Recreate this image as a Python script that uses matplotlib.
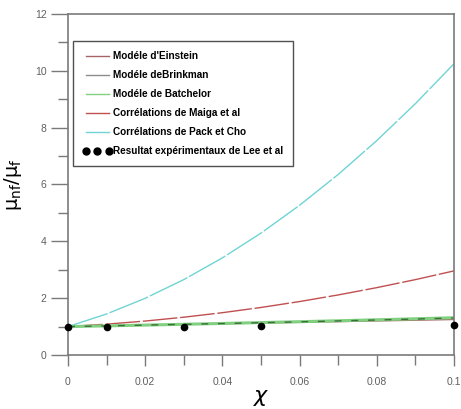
import matplotlib
matplotlib.use("Agg")
import matplotlib.pyplot as plt
from matplotlib.lines import Line2D
from matplotlib.ticker import MultipleLocator

phi = [0.0, 0.01, 0.02, 0.03, 0.04, 0.05, 0.06, 0.07, 0.08, 0.09, 0.10]
einstein = [1.0, 1.025, 1.05, 1.075, 1.10, 1.125, 1.15, 1.175, 1.20, 1.225, 1.25]
brinkman = [1.0, 1.025, 1.052, 1.079, 1.107, 1.137, 1.167, 1.199, 1.232, 1.266, 1.301]
batchelor = [1.0, 1.026, 1.053, 1.081, 1.110, 1.141, 1.172, 1.205, 1.240, 1.275, 1.312]
maiga = [1.0, 1.086, 1.195, 1.330, 1.489, 1.673, 1.881, 2.114, 2.371, 2.653, 2.96]
pakcho = [1.0, 1.444, 1.996, 2.654, 3.418, 4.290, 5.269, 6.354, 7.546, 8.845, 10.25]
lee_x = [0.0, 0.01, 0.03, 0.05, 0.10]
lee_y = [1.0, 0.98, 0.99, 1.02, 1.06]

labels = ["Modéle d'Einstein", "Modéle deBrinkman", "Modéle de Batchelor",
          "Corrélations de Maiga et al", "Corrélations de Pack et Cho",
          "Resultat expérimentaux de Lee et al"]

c_ein = "#a86464"
c_bri = "#8c8c8c"
c_bat = "#80d080"
c_mai = "#c05050"
c_pak = "#70d4d4"

plt.rcParams['font.family'] = ['Liberation Sans', 'DejaVu Sans']
fig = plt.figure(figsize=(4.61, 4.09), dpi=100)
ax = fig.add_axes([0.1475, 0.132, 0.8375, 0.834])

ax.plot(phi, pakcho, color=c_pak, lw=1.0, dashes=(30, 1.5))
ax.plot(phi, maiga, color=c_mai, lw=1.0, dashes=(25, 2))
ax.plot(phi, einstein, color=c_ein, lw=1.0)
ax.plot(phi, batchelor, color=c_bat, lw=2.2)
ax.plot(phi, brinkman, color="#3c6e3c", lw=1.0, dashes=(5, 7))
ax.plot(lee_x, lee_y, 'o', color='black', ms=4.5, clip_on=False, zorder=5)

ax.set_xlim(0, 0.1)
ax.set_ylim(0, 12)
ax.xaxis.set_major_locator(MultipleLocator(0.02))
ax.xaxis.set_minor_locator(MultipleLocator(0.01))
ax.yaxis.set_major_locator(MultipleLocator(2))
ax.yaxis.set_minor_locator(MultipleLocator(1))
ax.set_xticks([0, 0.02, 0.04, 0.06, 0.08, 0.1])
ax.set_xticklabels(["0", "0.02", "0.04", "0.06", "0.08", "0.1"])
ax.tick_params(which='both', direction='out', colors='#7a7a7a', labelcolor='#606060',
               labelsize=7.5, width=1.0)
ax.tick_params(which='major', length=12)
ax.tick_params(which='minor', length=7)
ax.tick_params(axis='x', which='both', length=7)
ax.tick_params(axis='x', which='major', length=8, pad=8)
for s in ax.spines.values():
    s.set_color('#7a7a7a')
    s.set_linewidth(1.2)

ax.set_xlabel(r"$\chi$", fontsize=16, labelpad=0)
ax.set_ylabel(r"$\mathrm{\mu_{nf}/\mu_{f}}$", fontsize=14, labelpad=8)

handles = [Line2D([], [], color=c_ein, lw=1.0),
           Line2D([], [], color=c_bri, lw=1.0),
           Line2D([], [], color=c_bat, lw=1.0),
           Line2D([], [], color=c_mai, lw=1.0),
           Line2D([], [], color=c_pak, lw=1.0),
           Line2D([], [], color='black', marker='o', ls='none', ms=5)]
leg = ax.legend(handles, labels, loc='upper left', bbox_to_anchor=(0.0, 0.935),
                prop={'weight': 'bold', 'size': 7.2}, numpoints=3,
                handlelength=2.9, handletextpad=0.1, labelspacing=0.9,
                borderpad=1.0, borderaxespad=0.5, fancybox=False, framealpha=1,
                edgecolor='#505050')
leg.get_frame().set_linewidth(1.0)

fig.savefig("out.png", dpi=100)
